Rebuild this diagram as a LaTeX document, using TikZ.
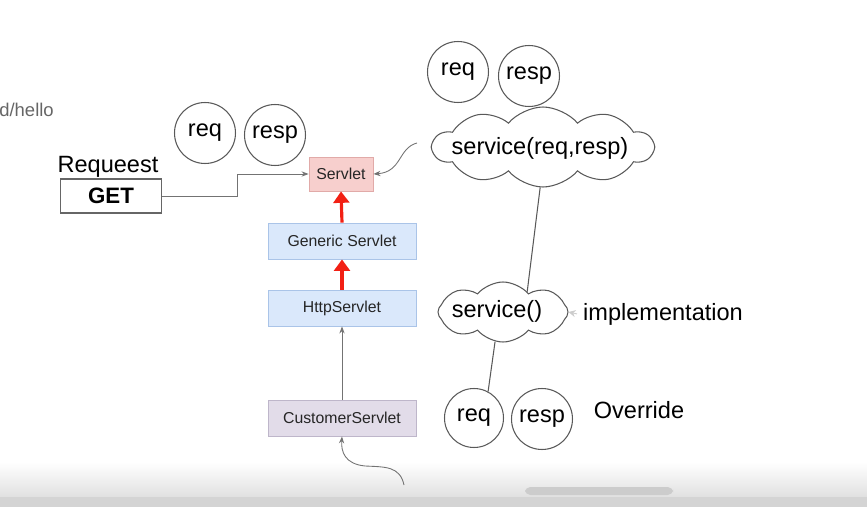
\documentclass[tikz,border=0pt]{standalone}
\usepackage{fontspec}
\setmainfont{Liberation Sans}
\usetikzlibrary{arrows.meta, shapes.symbols}

\definecolor{servletfill}{RGB}{247,207,205}
\definecolor{servletline}{RGB}{225,170,168}
\definecolor{genericfill}{RGB}{218,232,251}
\definecolor{genericline}{RGB}{170,196,232}
\definecolor{customfill}{RGB}{226,220,233}
\definecolor{customline}{RGB}{190,182,202}
\definecolor{inheritred}{RGB}{242,32,20}

\begin{document}
\begin{tikzpicture}[x=0.02cm, y=-0.02cm,
    every node/.style={font=\fontsize{13.4}{16}\selectfont},
    classbox/.style={draw, line width=0.5pt, minimum width=2.96cm, minimum height=0.72cm,
        inner sep=0pt, text=black!85, font=\fontsize{9}{11}\selectfont},
    argcircle/.style={circle, draw=black!65, line width=0.6pt, minimum size=1.22cm, inner sep=0pt},
    method/.style={cloud, draw=black!65, line width=0.6pt, inner sep=0pt, cloud puff arc=100},
    inherit/.style={inheritred, line width=1.8pt, -{Triangle[width=9pt,length=6.5pt]}},
    link/.style={black!55, line width=0.5pt, -{Stealth[length=4pt,width=3pt]}},
    plain/.style={black!65, line width=0.6pt}]
    \useasboundingbox (0,0) rectangle (867,507);

    % --- 请求: 地址和 GET ---
    \node[anchor=base west, inner sep=0pt, text=black!60, font=\fontsize{10.5}{12}\selectfont] (url) at (-1,116) {d/hello};
    \node[anchor=base] (reqlabel) at (108,173) {Requeest};
    \node[draw=black!60, line width=0.6pt, minimum width=2.02cm, minimum height=0.68cm, inner sep=0pt,
        font=\bfseries\fontsize{12.7}{15}\selectfont] (get) at (111,196) {GET};

    % --- 继承链: Servlet <- GenericServlet <- HttpServlet <- CustomerServlet ---
    \node[classbox, fill=servletfill, draw=servletline, minimum width=1.28cm, minimum height=0.68cm] (servlet) at (341,174) {Servlet};
    \node[classbox, fill=genericfill, draw=genericline] (generic) at (342,241) {Generic Servlet};
    \node[classbox, fill=genericfill, draw=genericline] (http) at (342,308) {HttpServlet};
    \node[classbox, fill=customfill, draw=customline] (customer) at (342,418) {CustomerServlet};

    \draw[inherit] (generic.north) -- (servlet.south);
    \draw[inherit] (http.north) -- (generic.south);
    \draw[link] (customer.north) -- (http.south);
    \draw[link] (get.east) -- ++(75,0) |- (servlet.west);

    % --- 参数 req / resp ---
    \node[argcircle] (reqA) at (205,133) {req};
    \node[argcircle] (respA) at (275,135) {resp};
    \node[argcircle] (reqB) at (458,72) {req};
    \node[argcircle] (respB) at (529,76) {resp};
    \node[argcircle, minimum size=1.18cm] (reqC) at (474,418) {req};
    \node[argcircle] (respC) at (542,419) {resp};

    % --- service 方法 (云形) ---
    \node[method, cloud puffs=10, minimum width=4.4cm, minimum height=1.6cm] (svcA) at (543,147) {};
    \node[anchor=base] (svcAtext) at (540,154) {service(req,resp)};
    \node[method, cloud puffs=8, minimum width=2.6cm, minimum height=1.2cm] (svcB) at (503,312) {};
    \node[anchor=base] (svcBtext) at (497,317) {service()};

    \coordinate (svctail) at (417,143);
    \draw[link] (svctail) .. controls (398,148) and (402,172) .. (servlet.east);
    \draw[plain] (svcA.266) -- (svcB.40);
    \draw[plain] (svcB.255) -- (reqC.62);

    % --- 说明文字 ---
    \node[anchor=base] (impl) at (663,320) {implementation};
    \node[anchor=base] (override) at (639,418) {Override};
    \draw[black!20, line width=0.5pt, -{Stealth[length=4pt,width=4pt]}] (impl.west) -- (svcB.east);

    % --- 窗口底边 ---
    \shade[top color=white, bottom color=black!12] (0,462) rectangle (867,497);
    \fill[black!17] (0,497) rectangle (867,507);
    \fill[black!20, rounded corners=3] (525,487) rectangle (673,495);

    % 底部进来的请求
    \coordinate (incoming) at (404,485);
    \draw[link] (incoming) .. controls (400,466) and (385,467) .. (365,466)
        .. controls (345,464) and (341,452) .. (customer.south);
\end{tikzpicture}
\end{document}
